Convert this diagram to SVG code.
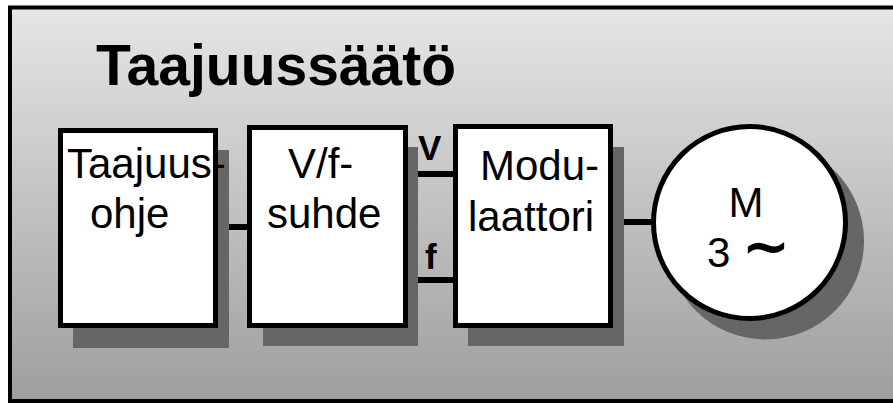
<svg xmlns="http://www.w3.org/2000/svg" width="893" height="403" viewBox="0 0 893 403">
  <defs>
    <linearGradient id="bg" x1="0" y1="0" x2="0" y2="1">
      <stop offset="0" stop-color="#e6e6e6"/>
      <stop offset="1" stop-color="#9e9e9e"/>
    </linearGradient>
    <style>
      .frame { fill: url(#bg); stroke: #000; stroke-width: 4; }
      .shadow { fill: #666666; }
      .block { fill: #ffffff; stroke: #000; stroke-width: 5; }
      .wire { stroke: #000; stroke-width: 6; fill: none; }
      .title { font-family: "Liberation Sans", Arial, sans-serif; font-weight: bold; font-size: 57px; fill: #000; }
      .lbl { font-family: "Liberation Sans", Arial, sans-serif; font-size: 42px; fill: #000; }
      .sig { font-family: "Liberation Sans", Arial, sans-serif; font-weight: bold; font-size: 35px; fill: #000; }
    </style>
  </defs>

  <rect x="0" y="0" width="893" height="403" fill="#ffffff"/>
  <rect class="frame" x="10" y="7.5" width="900" height="393.5"/>

  <text class="title" x="96" y="85">Taajuussäätö</text>

  <g id="connectors">
    <line class="wire" x1="216" y1="227" x2="250" y2="227"/>
    <line class="wire" x1="406" y1="174" x2="456" y2="174"/>
    <line class="wire" x1="406" y1="280" x2="456" y2="280"/>
    <line class="wire" x1="610" y1="222" x2="654" y2="222"/>
    <text class="sig" x="418" y="160">V</text>
    <text class="sig" x="425" y="269">f</text>
  </g>

  <g id="taajuusohje">
    <rect class="shadow" x="73" y="150" width="156" height="198"/>
    <rect class="block" x="60.5" y="130.5" width="155" height="195"/>
    <text class="lbl" x="67" y="178">Taajuus-</text>
    <text class="lbl" x="90" y="228">ohje</text>
  </g>

  <g id="vf-suhde">
    <rect class="shadow" x="263" y="147" width="155" height="199"/>
    <rect class="block" x="249.5" y="127.5" width="156" height="198"/>
    <text class="lbl" x="288" y="178">V/f-</text>
    <text class="lbl" x="267" y="228">suhde</text>
  </g>

  <g id="modulaattori">
    <rect class="shadow" x="468" y="147" width="156" height="199"/>
    <rect class="block" x="455.5" y="126.5" width="155" height="199"/>
    <text class="lbl" x="480" y="180">Modu-</text>
    <text class="lbl" x="468" y="231">laattori</text>
  </g>

  <g id="moottori">
    <circle class="shadow" cx="765.5" cy="241" r="98.5"/>
    <circle class="block" cx="749.5" cy="222.5" r="96"/>
    <text class="lbl" x="746" y="217" font-size="44" text-anchor="middle">M</text>
    <text class="lbl" x="707" y="267" font-size="44">3</text>
    <text x="766" y="266" font-family="DejaVu Sans, sans-serif" font-weight="bold" font-size="58" text-anchor="middle">∼</text>
  </g>
</svg>
